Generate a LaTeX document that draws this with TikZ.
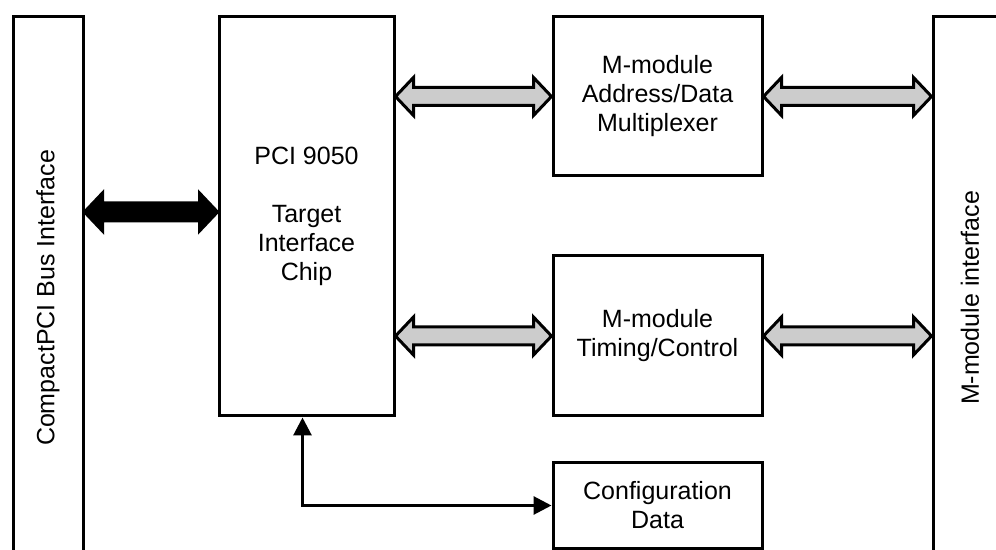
\documentclass[tikz,border=0pt]{standalone}
\usepackage{fontspec}
\setmainfont{Liberation Sans}
\usetikzlibrary{arrows.meta,calc}

\tikzset{
  block/.style={draw, line width=1.5pt, align=center, inner sep=0pt,
    font=\fontsize{12.5}{14.5}\selectfont},
  wire/.style={line width=1.5pt,
    {Triangle[length=9pt,width=9pt]}-{Triangle[length=9pt,width=9pt]}},
}

% wide bus arrow between two points on one height
\newcommand{\busarrow}[3]{%
  \filldraw[fill=#1, line width=1.5pt, line join=miter]
    let \p1=(#2), \p2=(#3) in
    (\x1,\y1) -- (\x1+9pt,\y1+9.5pt) -- (\x1+9pt,\y1+4.5pt)
    -- (\x2-9pt,\y1+4.5pt) -- (\x2-9pt,\y1+9.5pt) -- (\x2,\y1)
    -- (\x2-9pt,\y1-9.5pt) -- (\x2-9pt,\y1-4.5pt)
    -- (\x1+9pt,\y1-4.5pt) -- (\x1+9pt,\y1-9.5pt) -- cycle;
}

\begin{document}
\begin{tikzpicture}[x=0.5pt, y=-0.5pt]
    \clip (0,0) rectangle (996,550);

    % Bus sides
    \node[block, minimum width=35pt, minimum height=281pt] (cpci) at (48,298)
      {\rotatebox{90}{CompactPCI Bus Interface}};
    \node[block, minimum width=37pt, minimum height=281pt] (mmi) at (970,298)
      {\rotatebox{90}{M-module interface}};

    % Interface chip
    \node[block, minimum width=87.5pt, minimum height=199.5pt] (pci) at (306.5,216.5)
      {PCI 9050\\[14.5pt]Target\\Interface\\Chip};

    % M-module parts
    \node[block, minimum width=104.5pt, minimum height=79.5pt] (mux) at (657.5,96.5)
      {M-module\\Address/Data\\Multiplexer};
    \node[block, minimum width=104.5pt, minimum height=80pt] (tim) at (657.5,336)
      {M-module\\Timing/Control};
    \node[block, minimum width=104.5pt, minimum height=42.5pt] (cfg) at (657.5,505.5)
      {Configuration\\Data};

    % Buses
    \coordinate (busy) at (0,212);
    \busarrow{black}{cpci.east |- busy}{pci.west};
    \busarrow{gray!40}{pci.east |- mux.west}{mux.west};
    \busarrow{gray!40}{mux.east}{mmi.west};
    \busarrow{gray!40}{pci.east |- tim.west}{tim.west};
    \busarrow{gray!40}{tim.east}{mmi.west};

    % Configuration access
    \draw[wire] ([xshift=-2pt]pci.south) |- (cfg.west);
\end{tikzpicture}
\end{document}
